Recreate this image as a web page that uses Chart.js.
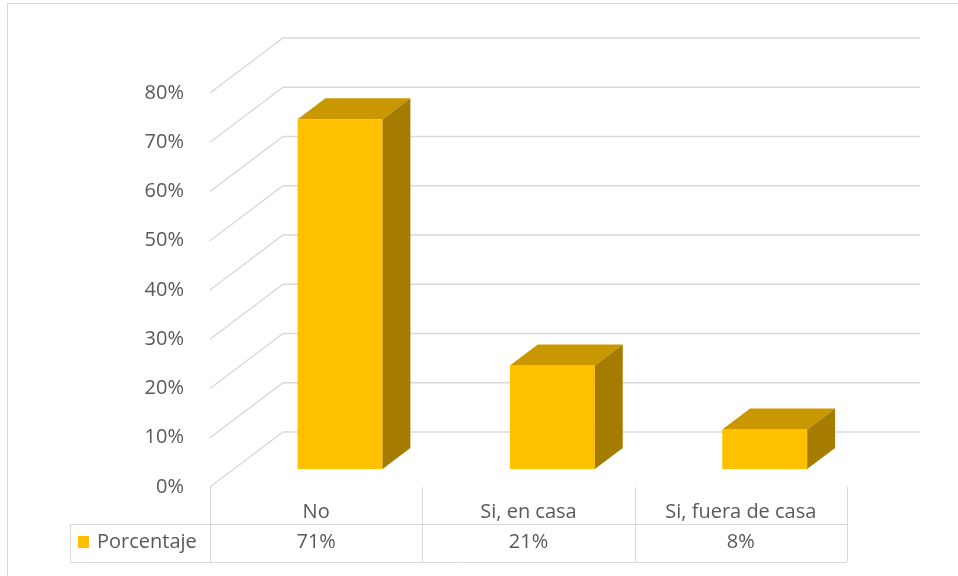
<!DOCTYPE html>
<html>
<head>
<meta charset="utf-8">
<script src="https://cdn.jsdelivr.net/npm/chart.js@4.4.0/dist/chart.umd.min.js"></script>
<style>
    body { margin: 0; background: #fff; }
</style>
</head>
<body>
<canvas id="myBarChart" width="958" height="576"></canvas>
<script>
const categories = ['No', 'Si, en casa', 'Si, fuera de casa'];
const porcentaje = [71, 21, 8];
const yTickLabels = ['0%', '10%', '20%', '30%', '40%', '50%', '60%', '70%', '80%'];
const seriesName = 'Porcentaje';

const FONT = '"Open Sans", sans-serif';
const TEXT = '#595959';
const GRID = '#D9D9D9';
const FRONT = '#FFC000';
const TOP = '#C99700';
const SIDE = '#A57B00';

// oblique depth of the floor, and where the bars sit inside it
const depth = { dx: 73, dy: -55 };
const barFront = 18 / 55;
const barBack = 39 / 55;

const threeD = {
    id: 'threeD',
    beforeDraw(chart) {
        const ctx = chart.ctx;
        ctx.save();
        ctx.strokeStyle = '#D9D9D9';
        ctx.lineWidth = 1;
        ctx.strokeRect(7.5, 3.5, 1200, 1200);
        ctx.restore();
    },
    beforeDatasetsDraw(chart) {
        const { ctx, chartArea: a, scales: { y } } = chart;
        ctx.save();
        ctx.strokeStyle = GRID;
        ctx.lineWidth = 1.5;
        y.ticks.forEach(t => {
            const py = y.getPixelForValue(t.value);
            ctx.beginPath();
            ctx.moveTo(a.left, py);
            ctx.lineTo(a.left + depth.dx, py + depth.dy);
            ctx.lineTo(a.right + depth.dx, py + depth.dy);
            ctx.stroke();
        });
        ctx.restore();
    },
    afterDatasetsDraw(chart) {
        const ctx = chart.ctx;
        const meta = chart.getDatasetMeta(0);
        const fdx = depth.dx * barFront, fdy = depth.dy * barFront;
        const bdx = depth.dx * (barBack - barFront), bdy = depth.dy * (barBack - barFront);
        ctx.save();
        meta.data.forEach(bar => {
            const { x, y, base, width } = bar.getProps(['x', 'y', 'base', 'width'], true);
            const l = x - width / 2 + fdx, r = x + width / 2 + fdx;
            const t = y + fdy, b = base + fdy;
            // front
            ctx.fillStyle = FRONT;
            ctx.fillRect(l, t, r - l, b - t);
            // top
            ctx.fillStyle = TOP;
            ctx.beginPath();
            ctx.moveTo(l, t);
            ctx.lineTo(l + bdx, t + bdy);
            ctx.lineTo(r + bdx, t + bdy);
            ctx.lineTo(r, t);
            ctx.closePath();
            ctx.fill();
            // side
            ctx.fillStyle = SIDE;
            ctx.beginPath();
            ctx.moveTo(r, t);
            ctx.lineTo(r + bdx, t + bdy);
            ctx.lineTo(r + bdx, b + bdy);
            ctx.lineTo(r, b);
            ctx.closePath();
            ctx.fill();
        });
        ctx.restore();
    },
    afterDraw(chart) {
        const { ctx, chartArea: a, scales: { x } } = chart;
        const rowTop = 524, rowBottom = 562, legendLeft = 70;
        ctx.save();
        ctx.strokeStyle = GRID;
        ctx.lineWidth = 1;
        // vertical cell borders
        const edges = [a.left];
        categories.forEach((c, i) => {
            const next = i < categories.length - 1
                ? (x.getPixelForValue(i) + x.getPixelForValue(i + 1)) / 2
                : a.right;
            edges.push(next);
        });
        edges.forEach(ex => {
            ctx.beginPath();
            ctx.moveTo(Math.round(ex) + 0.5, a.bottom);
            ctx.lineTo(Math.round(ex) + 0.5, rowBottom);
            ctx.stroke();
        });
        ctx.beginPath();
        ctx.moveTo(legendLeft + 0.5, rowTop);
        ctx.lineTo(legendLeft + 0.5, rowBottom);
        ctx.moveTo(legendLeft, rowTop + 0.5);
        ctx.lineTo(a.right, rowTop + 0.5);
        ctx.moveTo(legendLeft, rowBottom + 0.5);
        ctx.lineTo(a.right, rowBottom + 0.5);
        ctx.stroke();

        // legend key
        ctx.fillStyle = FRONT;
        ctx.fillRect(78, 536, 11, 12);
        ctx.fillStyle = TEXT;
        ctx.font = '20px ' + FONT;
        ctx.textBaseline = 'middle';
        ctx.textAlign = 'left';
        ctx.fillText(seriesName, 97, 542);

        // values row
        ctx.textAlign = 'center';
        porcentaje.forEach((v, i) => {
            ctx.fillText(v + '%', x.getPixelForValue(i), 542);
        });
        ctx.restore();
    }
};

const chart = new Chart(document.getElementById('myBarChart').getContext('2d'), {
    type: 'bar',
    data: {
        labels: categories,
        datasets: [{
            label: seriesName,
            data: porcentaje,
            backgroundColor: 'rgba(0,0,0,0)',
            borderWidth: 0,
            categoryPercentage: 1,
            barPercentage: 0.4
        }]
    },
    options: {
        responsive: false,
        animation: false,
        layout: { padding: { top: 93, right: 111, left: 0, bottom: 0 } },
        plugins: {
            legend: { display: false },
            tooltip: { enabled: false }
        },
        scales: {
            x: {
                grid: { display: false },
                border: { display: false },
                ticks: {
                    color: TEXT,
                    font: { family: FONT, size: 20 },
                    padding: 5,
                    maxRotation: 0
                },
                afterFit: s => { s.height = 89; }
            },
            y: {
                min: 0,
                max: 80,
                grid: { display: false },
                border: { display: false },
                ticks: {
                    stepSize: 10,
                    color: TEXT,
                    font: { family: FONT, size: 20 },
                    padding: 18,
                    callback: (v, i) => yTickLabels[i]
                },
                afterFit: s => { s.width = 210; }
            }
        }
    },
    plugins: [threeD]
});
</script>
</body>
</html>
